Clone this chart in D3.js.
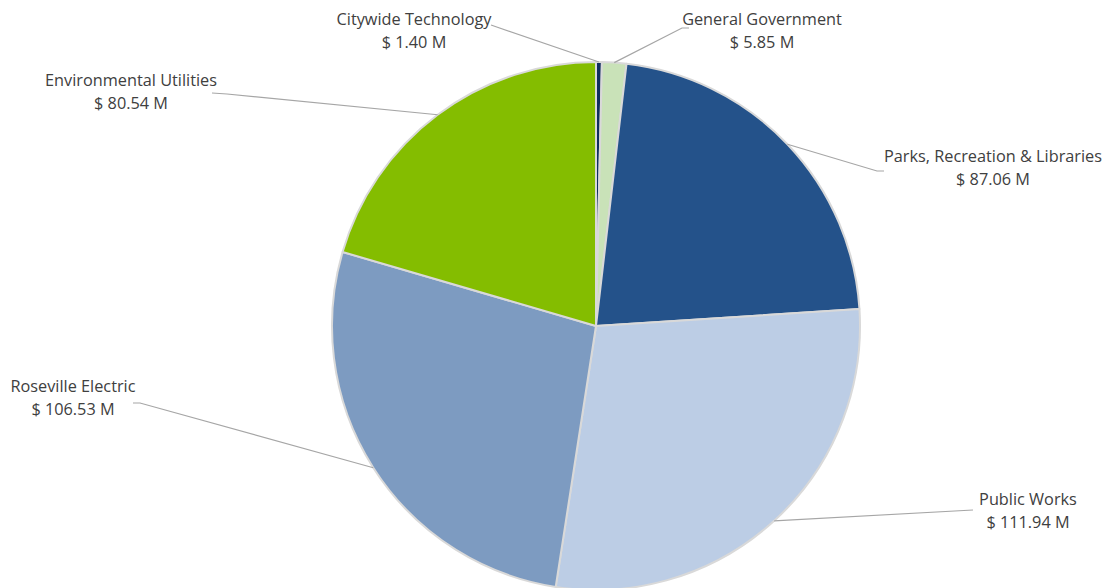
<!DOCTYPE html>
<html><head><meta charset="utf-8">
<script src="https://cdn.jsdelivr.net/npm/d3@7"></script>
<style>body{margin:0;background:#fff}svg{display:block}</style>
</head><body>
<svg id="c" width="1109" height="588"></svg>
<script>
const categories = ["Citywide Technology","General Government","Parks, Recreation & Libraries","Public Works","Roseville Electric","Environmental Utilities"];
const values = [1.40, 5.85, 87.06, 111.94, 106.53, 80.54];
const colors = ["#0f2d5e","#c9e2b8","#24528a","#bccde5","#7d9bc1","#84bd00"];
// label layout: text centre x, first baseline y, leader anchor points
const labelLayout = [
  {x:414, y:25, pts:[[491,25]]},
  {x:762, y:25, pts:[[682,28],[689,28]]},
  {x:993, y:162, pts:[[877,171],[884,171]]},
  {x:1028, y:505, pts:[[973,510]]},
  {x:73, y:392, pts:[[140,403],[133,403]]},
  {x:131, y:86, pts:[[227,94],[212,93]]}
];
const cx = 596, cy = 326, R = 264;
const svg = d3.select("#c");
const g = svg.append("g").attr("transform",`translate(${cx},${cy})`);
const pie = d3.pie().sort(null).value(d=>d)(values);
const arc = d3.arc().innerRadius(0).outerRadius(R);
g.selectAll("path").data(pie).join("path")
  .attr("d",arc).attr("fill",(d,i)=>colors[i])
  .attr("stroke","#d9d9d9").attr("stroke-width",2).attr("stroke-linejoin","round");
const fmt = d3.format(".2f");
pie.forEach((d,i)=>{
  const a = (d.startAngle+d.endAngle)/2;
  const p = [cx+R*Math.sin(a), cy-R*Math.cos(a)];
  const L = labelLayout[i];
  const pts = [p, ...L.pts];
  svg.append("path").attr("d", d3.line()(pts)).attr("fill","none")
    .attr("stroke","#a6a6a6").attr("stroke-width",1.2);
  const t = svg.append("text").attr("text-anchor","middle")
    .attr("font-family","'Open Sans', sans-serif").attr("font-size",16.3).attr("fill","#404040");
  t.append("tspan").attr("x",L.x).attr("y",L.y).text(categories[i]);
  t.append("tspan").attr("x",L.x).attr("y",L.y+22.5).text("$ "+fmt(values[i])+" M");
});
</script>
</body></html>
